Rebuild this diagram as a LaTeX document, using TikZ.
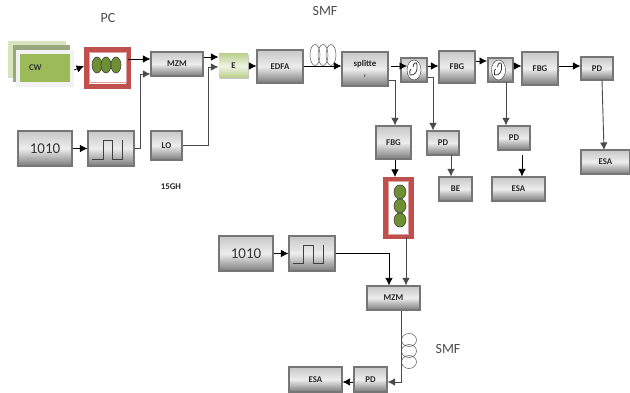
\documentclass[tikz,border=0pt]{standalone}
\usepackage{fontspec}
\setmainfont{Carlito}
\usetikzlibrary{arrows.meta,shadows}
\definecolor{fr}{HTML}{767676}
\definecolor{ln}{HTML}{4A4A4A}
\definecolor{redb}{HTML}{C0504D}
\definecolor{olive}{HTML}{6E8F32}
\definecolor{cwg}{HTML}{9BBB59}
\newcommand{\bx}[7][gbox]{\node[#1,minimum width={#4-#2},minimum height={#5-#3}] (#6) at ({(#2+#4)/2},{(#3+#5)/2}) {#7};}
\tikzset{
 x=1pt,y=-1pt,
 gbox/.style={draw=fr,line width=1.1pt,inner sep=0pt,align=center,font=\bfseries\fontsize{8.8}{9.3}\selectfont,text=black!85,
  top color=black!22,bottom color=black!52,middle color=black!7,
  general shadow={shadow xshift=1pt,shadow yshift=-1pt,fill=black!22}},
 bigtxt/.style={gbox,font=\fontsize{15}{15}\selectfont,text=black!80},
 ebox/.style={gbox,draw=none,top color=cwg!65!white,bottom color=cwg!70!white,middle color=cwg!18!white},
 sig/.style={black,line width=0.8pt,-{Latex[length=7.5pt,width=7.5pt]}},
 gsig/.style={ln,line width=0.9pt,-{Latex[length=7.5pt,width=7.5pt]}},
 redfr/.style={draw=redb,line width=5pt,fill=white,inner sep=0pt},
 pinkln/.style={draw=redb!55,line width=1pt},
 pell/.style={draw=black!75,fill=olive,line width=0.6pt},
 coil/.style={draw=black!65,line width=0.5pt},
 lab/.style={font=\fontsize{14}{14}\selectfont,text=black!70},
 small/.style={font=\bfseries\fontsize{8.8}{9}\selectfont,text=black!85},
}
\begin{document}
\begin{tikzpicture}
\useasboundingbox (0,0) rectangle (630,393);
\fill[white] (0,0) rectangle (630,393);
% labels
\node[lab] (lpc) at (108,18) {PC};
\node[lab] (lsmf) at (325,11) {SMF};
\node[lab] (lsmfb) at (448,349) {SMF};
\node[small] (l15) at (171,187) {15GH};
% CW
\fill[cwg!40!white] (8,41) rectangle (66,78);
\fill[black!35!cwg!65!white] (13,45) rectangle (70,82);
\fill[black!5] (16,50) rectangle (74,87);
\node[draw=none,fill=cwg,minimum width=50pt,minimum height=28pt,inner sep=0pt,font=\bfseries\fontsize{8.8}{9}\selectfont,text=black!80,text width=32pt,align=left] (cw) at (45,68) {CW};
% boxes
\node[redfr,minimum width=42pt,minimum height=37pt] (pca) at (107.5,68) {};
\draw[pinkln] (89,53) rectangle (126,83);
\foreach \xx in {97,106,116} \draw[pell] (\xx,65) ellipse (5 and 8);
\bx{151}{52}{203}{76}{mzma}{MZM}
\bx[ebox]{219}{54}{248}{78}{e}{E}
\bx{257}{50}{303}{83}{edfa}{EDFA}
\bx{342}{52}{388}{86}{split}{splitte\\[1pt]{\fontsize{5}{5}\selectfont r}}
\bx{401}{58}{427}{82}{cira}{}
\bx{439}{51}{475}{83}{fbga}{FBG}
\bx{488}{58}{513}{82}{cirb}{}
\bx{522}{52}{558}{85}{fbgb}{FBG}
\bx{581}{57}{613}{80}{pda}{PD}
\bx{581}{150}{630}{174}{esaa}{ESA}
\bx{376}{126}{411}{159}{fbgc}{FBG}
\bx{427}{131}{459}{155}{pdb}{PD}
\bx{439}{177}{472}{201}{be}{BE}
\bx{498}{126}{530}{150}{pdc}{PD}
\bx{492}{177}{545}{201}{esab}{ESA}
\bx[bigtxt]{18}{131}{72}{166}{seqa}{1010}
\bx{88}{131}{134}{166}{pula}{}
\bx{151}{131}{182}{160}{lo}{LO}
\bx[bigtxt]{219}{236}{273}{271}{seqb}{1010}
\bx{289}{236}{335}{271}{pulb}{}
\bx{367}{286}{420}{310}{mzmb}{MZM}
\bx{354}{367}{387}{392}{pdd}{PD}
\bx{289}{367}{342}{392}{esac}{ESA}
\node[redfr,minimum width=26pt,minimum height=57pt] (pcb) at (398.5,208) {};
\draw[pinkln] (388.5,181.5) rectangle (408.5,234.5);
\foreach \yy in {192,206,220} \draw[pell] (400,\yy) ellipse (6 and 7);
% pulses
\draw[black!75,line width=0.7pt] (92,159) -- (103,159) -- (103,140) -- (112,140) -- (112,159) -- (122,159) -- (122,140);
\draw[black!75,line width=0.7pt] (293,263) -- (303,263) -- (303,245) -- (313,245) -- (313,263) -- (323,263) -- (323,245);
% circulators
\foreach \cc in {414,498.5} {
 \draw[black!70,fill=white,line width=0.5pt] (\cc,70) ellipse (7 and 10);
 \draw[black!80,line width=0.8pt] (\cc-1,67) .. controls (\cc-1,63) and (\cc+3,61) .. (\cc+3,65) .. controls (\cc+4,71) and (\cc+1,76) .. (\cc-4,75) (\cc-4,75) .. controls (\cc-5,72) and (\cc-4,70) .. (\cc-3,69);
}
% connectors
\draw[sig] ([xshift=4pt,yshift=-2pt]cw.east) -- (pca.west |- 0,66);
\draw[sig] (128,59) -- (mzma.west |- 0,59);
\draw[gsig] (pula.east) -- (pula.east -| 140,0) -- (140,74) -- (mzma.west |- 0,74);
\draw[sig] (seqa.east) -- (pula.west);
\draw[sig] (mzma.east |- 0,57) -- (e.west |- 0,57);
\draw[gsig] (lo.east) -- (lo.east -| 208,0) -- (208,67) -- (e.west |- 0,67);
\draw[sig] (e.east) -- (edfa.west |- e.east);
\draw[coil] (315,55) ellipse (5 and 10.5) (323,55) ellipse (5 and 10.5) (331,55) ellipse (5 and 10.5);
\draw[sig] (edfa.east |- 0,66) -- (split.west |- 0,66);
\draw[sig] (391,66) -- (407,66);
\draw[sig] (cira.east |- 0,66) -- (fbga.west |- 0,66);
\draw[sig] (fbga.east |- 0,61) -- (487,61);
\draw[sig] (cirb.east |- 0,66) -- (fbgb.west |- 0,66);
\draw[sig] (fbgb.east |- 0,66) -- (pda.west |- 0,66);
\draw[gsig] (602,80) -- (604,150);
\draw[gsig] (split.east |- 0,80) -- (395,80) -- (fbgc.north -| 395,0);
\draw[gsig] (cira.east |- 0,77) -- (433,77) -- (pdb.north -| 433,0);
\draw[gsig] (506,82) -- (pdc.north -| 506,0);
\draw[gsig] (451,155) -- (be.north -| 451,0);
\draw[sig] (522,155) -- (esab.north -| 522,0);
\draw[sig] (fbgc.south -| 395,0) -- (395,177);
\draw[gsig] (406,237) -- (mzmb.north -| 406,0);
\draw[sig] (seqb.east) -- (pulb.west);
\draw[sig] (pulb.east) -- (pulb.east -| 389,0) -- (mzmb.north -| 389,0);
\draw[coil] (409,340) ellipse (7.5 and 6.5) (409,351) ellipse (7.5 and 6.5) (409,362) ellipse (7.5 and 6.5);
\draw[gsig] (mzmb.south -| 401,0) -- (401,382) -- (pdd.east |- 0,382);
\draw[sig] (pdd.west |- 0,382) -- (esac.east |- 0,382);
\end{tikzpicture}
\end{document}
